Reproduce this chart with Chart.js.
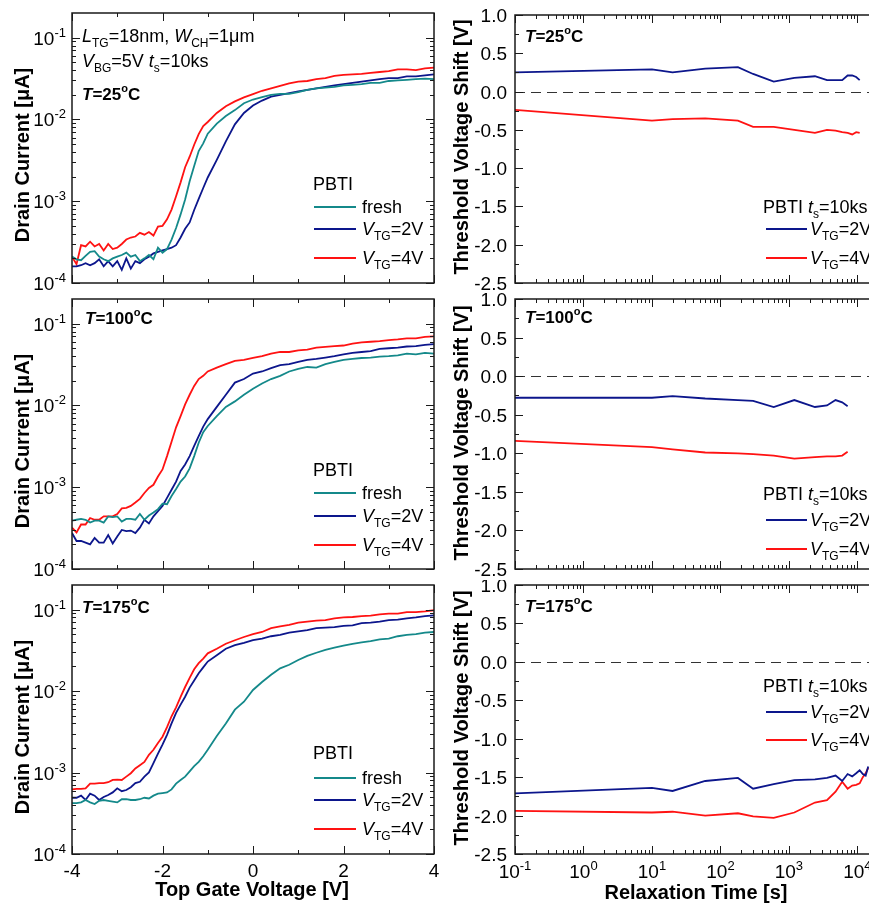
<!DOCTYPE html>
<html>
<head>
<meta charset="utf-8">
<title>PBTI</title>
<script src="https://cdn.jsdelivr.net/npm/chart.js@4.4.1/dist/chart.umd.min.js"></script>
<style>
  html, body { margin: 0; padding: 0; background: #fff; overflow: hidden; }
  #wrap { position: relative; width: 869px; height: 906px; overflow: hidden; }
  #wrap canvas { position: absolute; }
</style>
</head>
<body>
<div id="wrap">
  <canvas id="iv25" width="440" height="290" style="left:0;top:0"></canvas>
  <canvas id="iv100" width="440" height="290" style="left:0;top:290px"></canvas>
  <canvas id="iv175" width="440" height="326" style="left:0;top:580px"></canvas>
  <canvas id="dv25" width="460" height="290" style="left:430px;top:0"></canvas>
  <canvas id="dv100" width="460" height="290" style="left:430px;top:290px"></canvas>
  <canvas id="dv175" width="460" height="326" style="left:430px;top:580px"></canvas>
</div>
<script>
const FAMILY = '"Liberation Sans", Arial, Helvetica, sans-serif'
const TEAL = '#14898a'
const NAVY = '#0c168c'
const RED = '#ff1212'

// top gate voltage [V]
const vg = [-4.0, -3.9, -3.8, -3.7, -3.6, -3.5, -3.4, -3.3, -3.2, -3.1,
  -3.0, -2.9, -2.8, -2.7, -2.6, -2.5, -2.4, -2.3, -2.2, -2.1,
  -2.0, -1.9, -1.8, -1.7, -1.6, -1.5, -1.4, -1.3, -1.2, -1.1,
  -1.0, -0.8, -0.6, -0.4, -0.2, 0, 0.2, 0.4, 0.6, 0.8,
  1.0, 1.2, 1.4, 1.6, 1.8, 2.0, 2.2, 2.4, 2.6, 2.8,
  3.0, 3.2, 3.4, 3.6, 3.8, 4.0]

// drain current [uA], T = 25 C
const fresh25 = [2.1e-4, 1.95e-4, 1.9e-4, 2.15e-4, 2.4e-4, 2.45e-4, 2.1e-4, 1.95e-4, 1.85e-4, 2.0e-4,
  2.1e-4, 2.2e-4, 2.35e-4, 2.1e-4, 2.2e-4, 1.85e-4, 2.0e-4, 2.2e-4, 1.95e-4, 2.7e-4,
  2.35e-4, 2.6e-4, 3.4e-4, 4.7e-4, 6.9e-4, 1.05e-3, 1.75e-3, 2.7e-3, 4.1e-3, 5.1e-3,
  6.7e-3, 8.9e-3, 1.1e-2, 1.3e-2, 1.58e-2, 1.75e-2, 1.87e-2, 2.0e-2, 2.05e-2, 2.05e-2,
  2.15e-2, 2.3e-2, 2.4e-2, 2.45e-2, 2.5e-2, 2.6e-2, 2.65e-2, 2.7e-2, 2.8e-2, 2.8e-2,
  2.95e-2, 3.0e-2, 3.05e-2, 3.1e-2, 3.15e-2, 3.1e-2]
const vtg2_25 = [1.6e-4, 1.6e-4, 1.65e-4, 1.75e-4, 1.65e-4, 1.75e-4, 1.95e-4, 1.6e-4, 1.85e-4, 1.6e-4,
  1.85e-4, 1.45e-4, 2.0e-4, 1.5e-4, 1.85e-4, 1.75e-4, 1.95e-4, 2.1e-4, 2.3e-4, 2.4e-4,
  2.5e-4, 2.6e-4, 2.7e-4, 2.9e-4, 3.6e-4, 4.6e-4, 5.5e-4, 7.8e-4, 1.07e-3, 1.45e-3,
  1.95e-3, 3.2e-3, 5.4e-3, 8.7e-3, 1.2e-2, 1.48e-2, 1.7e-2, 1.9e-2, 2.0e-2, 2.1e-2,
  2.2e-2, 2.3e-2, 2.4e-2, 2.5e-2, 2.6e-2, 2.7e-2, 2.8e-2, 2.9e-2, 3.0e-2, 3.1e-2,
  3.2e-2, 3.2e-2, 3.35e-2, 3.35e-2, 3.45e-2, 3.55e-2]
const vtg4_25 = [2.1e-4, 1.7e-4, 2.9e-4, 2.8e-4, 3.2e-4, 2.8e-4, 3.0e-4, 2.5e-4, 3.0e-4, 2.6e-4,
  2.7e-4, 3.0e-4, 3.4e-4, 3.6e-4, 3.7e-4, 4.1e-4, 3.9e-4, 4.2e-4, 3.8e-4, 4.9e-4,
  5.0e-4, 6.0e-4, 7.9e-4, 1.15e-3, 1.7e-3, 2.6e-3, 3.5e-3, 4.9e-3, 6.6e-3, 8.3e-3,
  9.3e-3, 1.2e-2, 1.45e-2, 1.66e-2, 1.86e-2, 2.04e-2, 2.24e-2, 2.4e-2, 2.57e-2, 2.75e-2,
  2.9e-2, 2.95e-2, 3.1e-2, 3.2e-2, 3.4e-2, 3.5e-2, 3.55e-2, 3.6e-2, 3.7e-2, 3.8e-2,
  3.9e-2, 4.1e-2, 4.1e-2, 4.0e-2, 4.2e-2, 4.3e-2]

// drain current [uA], T = 100 C
const fresh100 = [3.9e-4, 4.0e-4, 4.1e-4, 4.0e-4, 3.7e-4, 3.9e-4, 3.9e-4, 3.7e-4, 4.4e-4, 4.3e-4,
  4.4e-4, 3.8e-4, 4.1e-4, 4.1e-4, 4.0e-4, 4.7e-4, 4.0e-4, 4.5e-4, 4.9e-4, 5.4e-4,
  6.3e-4, 6.2e-4, 7.8e-4, 9.5e-4, 1.17e-3, 1.35e-3, 1.7e-3, 2.4e-3, 3.5e-3, 4.7e-3,
  5.6e-3, 7.4e-3, 9.6e-3, 1.12e-2, 1.35e-2, 1.6e-2, 1.85e-2, 2.1e-2, 2.3e-2, 2.6e-2,
  2.8e-2, 2.95e-2, 2.9e-2, 3.2e-2, 3.4e-2, 3.6e-2, 3.7e-2, 3.8e-2, 3.85e-2, 3.95e-2,
  4.0e-2, 4.1e-2, 4.3e-2, 4.2e-2, 4.4e-2, 4.3e-2]
const vtg2_100 = [2.75e-4, 2.2e-4, 2.2e-4, 2.1e-4, 2.0e-4, 2.4e-4, 2.1e-4, 2.1e-4, 2.6e-4, 2.05e-4,
  2.5e-4, 3.0e-4, 2.9e-4, 2.95e-4, 2.75e-4, 3.2e-4, 4.0e-4, 3.6e-4, 4.4e-4, 5.1e-4,
  5.9e-4, 7.4e-4, 9.3e-4, 1.17e-3, 1.58e-3, 1.9e-3, 2.4e-3, 3.2e-3, 4.2e-3, 5.5e-3,
  6.8e-3, 9.6e-3, 1.35e-2, 1.9e-2, 2.1e-2, 2.45e-2, 2.6e-2, 2.85e-2, 3.1e-2, 3.2e-2,
  3.4e-2, 3.6e-2, 3.7e-2, 3.85e-2, 4.0e-2, 4.2e-2, 4.4e-2, 4.5e-2, 4.6e-2, 4.9e-2,
  5.0e-2, 5.1e-2, 5.25e-2, 5.3e-2, 5.5e-2, 5.6e-2]
const vtg4_100 = [3.2e-4, 2.8e-4, 3.5e-4, 3.5e-4, 4.2e-4, 4.0e-4, 4.0e-4, 4.4e-4, 4.4e-4, 4.4e-4,
  4.7e-4, 5.5e-4, 5.6e-4, 5.9e-4, 6.5e-4, 7.2e-4, 8.5e-4, 9.8e-4, 1.07e-3, 1.35e-3,
  1.65e-3, 2.4e-3, 3.6e-3, 5.4e-3, 7.4e-3, 1.03e-2, 1.35e-2, 1.73e-2, 2.1e-2, 2.3e-2,
  2.6e-2, 2.9e-2, 3.2e-2, 3.5e-2, 3.6e-2, 3.8e-2, 4.0e-2, 4.3e-2, 4.5e-2, 4.5e-2,
  4.7e-2, 4.8e-2, 5.1e-2, 5.2e-2, 5.3e-2, 5.4e-2, 5.7e-2, 5.9e-2, 6.0e-2, 6.1e-2,
  6.3e-2, 6.4e-2, 6.6e-2, 6.6e-2, 6.9e-2, 7.0e-2]

// drain current [uA], T = 175 C
const fresh175 = [4.2e-4, 4.2e-4, 4.3e-4, 4.6e-4, 4.3e-4, 4.1e-4, 4.5e-4, 4.6e-4, 4.5e-4, 4.4e-4,
  4.3e-4, 4.7e-4, 4.7e-4, 4.6e-4, 4.6e-4, 4.7e-4, 4.9e-4, 4.8e-4, 5.2e-4, 5.5e-4,
  5.6e-4, 5.7e-4, 6.2e-4, 7.3e-4, 8.1e-4, 8.9e-4, 1.03e-3, 1.2e-3, 1.35e-3, 1.58e-3,
  1.9e-3, 2.8e-3, 4.0e-3, 5.9e-3, 7.4e-3, 1.03e-2, 1.29e-2, 1.58e-2, 1.9e-2, 2.1e-2,
  2.4e-2, 2.7e-2, 2.95e-2, 3.2e-2, 3.4e-2, 3.6e-2, 3.8e-2, 3.95e-2, 4.1e-2, 4.3e-2,
  4.4e-2, 4.7e-2, 4.9e-2, 5.0e-2, 5.2e-2, 5.3e-2]
const vtg2_175 = [4.9e-4, 4.9e-4, 5.2e-4, 4.6e-4, 5.5e-4, 5.2e-4, 4.6e-4, 5.0e-4, 5.3e-4, 5.7e-4,
  6.4e-4, 5.9e-4, 6.1e-4, 6.6e-4, 7.4e-4, 7.7e-4, 8.9e-4, 1.0e-3, 1.3e-3, 1.7e-3,
  2.2e-3, 2.9e-3, 4.0e-3, 5.4e-3, 6.8e-3, 8.5e-3, 1.1e-2, 1.35e-2, 1.65e-2, 1.95e-2,
  2.3e-2, 2.75e-2, 3.3e-2, 3.65e-2, 3.9e-2, 4.2e-2, 4.4e-2, 4.7e-2, 4.9e-2, 5.2e-2,
  5.4e-2, 5.6e-2, 5.9e-2, 6.0e-2, 6.1e-2, 6.3e-2, 6.4e-2, 6.8e-2, 6.9e-2, 7.1e-2,
  7.4e-2, 7.5e-2, 7.8e-2, 8.0e-2, 8.3e-2, 8.5e-2]
const vtg4_175 = [6.2e-4, 6.3e-4, 6.3e-4, 6.4e-4, 7.3e-4, 7.3e-4, 7.4e-4, 7.4e-4, 7.6e-4, 8.1e-4,
  8.2e-4, 8.1e-4, 8.9e-4, 9.8e-4, 1.12e-3, 1.23e-3, 1.35e-3, 1.65e-3, 1.9e-3, 2.3e-3,
  2.75e-3, 3.6e-3, 4.9e-3, 6.3e-3, 8.5e-3, 1.12e-2, 1.45e-2, 1.85e-2, 2.2e-2, 2.5e-2,
  2.9e-2, 3.3e-2, 3.8e-2, 4.2e-2, 4.6e-2, 5.0e-2, 5.3e-2, 5.9e-2, 6.2e-2, 6.5e-2,
  6.9e-2, 7.1e-2, 7.3e-2, 7.4e-2, 7.8e-2, 8.0e-2, 8.1e-2, 8.3e-2, 8.4e-2, 8.7e-2,
  8.9e-2, 8.9e-2, 9.3e-2, 9.3e-2, 9.5e-2, 9.8e-2]

// relaxation time [s] and threshold voltage shift [V]
const tRelax = [0.1, 10, 20, 60, 180, 300, 600, 1200, 2400, 3600,
  4800, 6000, 7200, 8400, 9600, 10800, 12000, 13200, 14400]
const dv25Vtg2 = [0.25, 0.29, 0.25, 0.30, 0.32, 0.23, 0.13, 0.18, 0.20, 0.15,
  0.15, 0.15, 0.21, 0.21, 0.19, 0.15]
const dv25Vtg4 = [-0.24, -0.38, -0.36, -0.35, -0.38, -0.46, -0.46, -0.50, -0.54, -0.50,
  -0.51, -0.53, -0.54, -0.56, -0.53, -0.54]
const dv100Vtg2 = [-0.28, -0.28, -0.26, -0.29, -0.31, -0.32, -0.40, -0.31, -0.40, -0.38,
  -0.31, -0.34, -0.39]
const dv100Vtg4 = [-0.84, -0.92, -0.95, -0.99, -1.00, -1.01, -1.03, -1.07, -1.05, -1.04,
  -1.04, -1.03, -0.98]
const dv175Vtg2 = [-1.71, -1.64, -1.68, -1.55, -1.51, -1.65, -1.59, -1.54, -1.53, -1.51,
  -1.48, -1.55, -1.46, -1.49, -1.45, -1.41, -1.46, -1.48, -1.36]
const dv175Vtg4 = [-1.94, -1.96, -1.95, -2.00, -1.97, -2.01, -2.03, -1.96, -1.83, -1.80,
  -1.69, -1.56, -1.65, -1.61, -1.60, -1.58, -1.50, -1.45, -1.38]
const zeroLevel = 0

// axis ticks
const ivTicks = [1e-4, 1e-3, 1e-2, 1e-1]
const ivExp = ['-4', '-3', '-2', '-1']
const vgTicks = [-4, -2, 0, 2, 4]
const vgMinor = [-3, -1, 1, 3]
const dvTicks = [1.0, 0.5, 0.0, -0.5, -1.0, -1.5, -2.0, -2.5]
const dvMinor = [0.75, 0.25, -0.25, -0.75, -1.25, -1.75, -2.25]
const tTicks = [0.1, 1, 10, 100, 1000, 10000]
const tExp = ['-1', '0', '1', '2', '3', '4']

const font = (px, style) => (style ? style + ' ' : '') + px + 'px ' + FAMILY

// texto con subindices / superindices: [texto, fuente, desplazamiento y]
const drawRuns = (ctx, parts, x, y, align) => {
  let w = 0
  parts.forEach(p => { ctx.font = p[1]; w += ctx.measureText(p[0]).width })
  let cx = align === 'right' ? x - w : align === 'center' ? x - w / 2 : x
  ctx.textAlign = 'left'
  ctx.textBaseline = 'alphabetic'
  parts.forEach(p => {
    ctx.font = p[1]
    ctx.fillText(p[0], cx, y + (p[2] || 0))
    cx += ctx.measureText(p[0]).width
  })
}

const logMinors = (min, max) => {
  const out = []
  for (let e = Math.floor(Math.log10(min)); e <= Math.ceil(Math.log10(max)); e++) {
    for (let m = 2; m <= 9; m++) {
      const v = m * Math.pow(10, e)
      if (v > min && v < max) out.push(v)
    }
  }
  return out
}

const tenTo = e => [['10', font(19)], [e, font(13), -8]]
const vtgText = n => [['V', font(18, 'italic')], ['TG', font(12), 5], ['=' + n + 'V', font(18)]]
const tempText = t => [['T', font(17, 'italic bold')], ['=' + t, font(17, 'bold')], ['o', font(11, 'bold'), -8], ['C', font(17, 'bold')]]

const makePanel = (id, p) => {
  const datasets = p.curves.map(c => ({
    data: c.y.map((v, i) => ({ x: c.x[i], y: v })),
    borderColor: c.color,
    borderWidth: 1.8,
    pointRadius: 0,
    tension: 0,
    fill: false
  }))
  const deco = {
    id: 'deco',
    beforeDatasetsDraw(chart) {
      if (p.kind !== 'dv') return
      const { ctx, chartArea: a, scales } = chart
      const y0 = Math.round(scales.y.getPixelForValue(zeroLevel)) + 0.5
      ctx.save()
      ctx.strokeStyle = '#333'
      ctx.lineWidth = 1.2
      ctx.setLineDash([10, 6])
      ctx.beginPath()
      ctx.moveTo(a.left, y0)
      ctx.lineTo(a.right, y0)
      ctx.stroke()
      ctx.restore()
    },
    afterDatasetsDraw(chart) {
      const { ctx, chartArea: a, scales: { x, y } } = chart
      ctx.save()
      ctx.strokeStyle = '#1a1a1a'
      ctx.lineWidth = 1
      ctx.beginPath()
      const xt = (vals, len) => vals.forEach(v => {
        const px = Math.round(x.getPixelForValue(v)) + 0.5
        ctx.moveTo(px, a.bottom); ctx.lineTo(px, a.bottom - len)
        ctx.moveTo(px, a.top); ctx.lineTo(px, a.top + len)
      })
      const yt = (vals, len) => vals.forEach(v => {
        const py = Math.round(y.getPixelForValue(v)) + 0.5
        ctx.moveTo(a.left, py); ctx.lineTo(a.left + len, py)
        ctx.moveTo(a.right, py); ctx.lineTo(a.right - len, py)
      })
      if (p.kind === 'iv') {
        xt(vgTicks, 8); xt(vgMinor, 4)
        yt(ivTicks, 8); yt(logMinors(1e-4, 0.2), 4)
      } else {
        xt(tTicks, 8); xt(logMinors(0.1, 2e4), 4)
        yt(dvTicks, 8); yt(dvMinor, 4)
      }
      ctx.stroke()
      ctx.lineWidth = 1.5
      ctx.strokeRect(a.left, a.top, a.right - a.left, a.bottom - a.top)

      // tick labels
      ctx.fillStyle = '#000'
      if (p.kind === 'iv') {
        ivTicks.forEach((v, i) => drawRuns(ctx, tenTo(ivExp[i]), 66, y.getPixelForValue(v) + 7, 'right'))
        if (p.bottom) vgTicks.forEach(v => drawRuns(ctx, [[String(v), font(19)]], x.getPixelForValue(v), p.bottom, 'center'))
      } else {
        dvTicks.forEach(v => drawRuns(ctx, [[v.toFixed(1), font(19)]], 77, y.getPixelForValue(v) + 7, 'right'))
        if (p.bottom) tTicks.forEach((v, i) => drawRuns(ctx, tenTo(tExp[i]), x.getPixelForValue(v), p.bottom, 'center'))
      }

      // axis titles
      ctx.save()
      ctx.translate(p.yTitle[0], p.yTitle[1])
      ctx.rotate(-Math.PI / 2)
      ctx.font = font(20, 'bold')
      ctx.textAlign = 'center'
      ctx.textBaseline = 'middle'
      ctx.fillText(p.kind === 'iv' ? 'Drain Current [\u03bcA]' : 'Threshold Voltage Shift [V]', 0, 0)
      ctx.restore()
      if (p.xTitle) {
        ctx.font = font(20, 'bold')
        ctx.textAlign = 'center'
        ctx.textBaseline = 'middle'
        ctx.fillText(p.kind === 'iv' ? 'Top Gate Voltage [V]' : 'Relaxation Time [s]', p.xTitle[0], p.xTitle[1])
      }

      // notes and legend
      p.notes.forEach(n => drawRuns(ctx, n[0], n[1], n[2], 'left'))
      const lg = p.legend
      drawRuns(ctx, lg.head[0], lg.head[1], lg.head[2], 'left')
      lg.items.forEach(it => {
        ctx.strokeStyle = it[0]
        ctx.lineWidth = 2
        ctx.beginPath()
        ctx.moveTo(lg.x0, it[2]); ctx.lineTo(lg.x1, it[2])
        ctx.stroke()
        drawRuns(ctx, it[1], lg.tx, it[2] + 6, 'left')
      })
      ctx.restore()
    }
  }
  new Chart(document.getElementById(id), {
    type: 'line',
    data: { datasets },
    options: {
      responsive: false,
      animation: false,
      events: [],
      devicePixelRatio: 1,
      layout: { padding: p.pad },
      scales: {
        x: p.kind === 'iv'
          ? { type: 'linear', display: false, min: -4, max: 4 }
          : { type: 'logarithmic', display: false, min: 0.1, max: 2e4 },
        y: p.kind === 'iv'
          ? { type: 'logarithmic', display: false, min: 1e-4, max: 0.2 }
          : { type: 'linear', display: false, min: -2.5, max: 1.0 }
      },
      plugins: { legend: { display: false }, tooltip: { enabled: false } }
    },
    plugins: [deco]
  })
}

const ivLegend = (head, lines) => ({
  head: [[['PBTI', font(18)]], 313, head],
  x0: 314, x1: 356, tx: 362,
  items: [[TEAL, [['fresh', font(18)]], lines[0]], [NAVY, vtgText(2), lines[1]], [RED, vtgText(4), lines[2]]]
})
const dvLegend = (head, lines) => ({
  head: [[['PBTI ', font(18)], ['t', font(18, 'italic')], ['s', font(12), 5], ['=10ks', font(18)]], 333, head],
  x0: 336, x1: 377, tx: 380,
  items: [[NAVY, vtgText(2), lines[0]], [RED, vtgText(4), lines[1]]]
})
const ivCurves = (a, b, c) => [
  { x: vg, y: a, color: TEAL }, { x: vg, y: b, color: NAVY }, { x: vg, y: c, color: RED }
]
const dvCurves = (a, b) => [{ x: tRelax, y: a, color: NAVY }, { x: tRelax, y: b, color: RED }]

makePanel('iv25', {
  kind: 'iv', pad: { left: 72, right: 6, top: 13, bottom: 7 },
  curves: ivCurves(fresh25, vtg2_25, vtg4_25),
  yTitle: [23, 155],
  notes: [
    [[['L', font(18, 'italic')], ['TG', font(12), 5], ['=18nm, ', font(18)], ['W', font(18, 'italic')], ['CH', font(12), 5], ['=1\u03bcm', font(18)]], 82, 42],
    [[['V', font(18, 'italic')], ['BG', font(12), 5], ['=5V ', font(18)], ['t', font(18, 'italic')], ['s', font(12), 5], ['=10ks', font(18)]], 82, 67],
    [tempText('25'), 82, 100]
  ],
  legend: ivLegend(190, [207, 229, 258])
})
makePanel('iv100', {
  kind: 'iv', pad: { left: 72, right: 6, top: 9, bottom: 11 },
  curves: ivCurves(fresh100, vtg2_100, vtg4_100),
  yTitle: [23, 151],
  notes: [[tempText('100'), 85, 34]],
  legend: ivLegend(186, [203, 226, 255])
})
makePanel('iv175', {
  kind: 'iv', pad: { left: 72, right: 6, top: 5, bottom: 52 },
  curves: ivCurves(fresh175, vtg2_175, vtg4_175),
  yTitle: [23, 147],
  bottom: 297,
  xTitle: [252, 310],
  notes: [[tempText('175'), 82, 33]],
  legend: ivLegend(179, [198, 220, 249])
})
makePanel('dv25', {
  kind: 'dv', pad: { left: 85, right: 12, top: 15, bottom: 7 },
  curves: dvCurves(dv25Vtg2, dv25Vtg4),
  yTitle: [32, 147],
  notes: [[tempText('25'), 95, 42]],
  legend: dvLegend(213, [229, 258])
})
makePanel('dv100', {
  kind: 'dv', pad: { left: 85, right: 12, top: 9, bottom: 11 },
  curves: dvCurves(dv100Vtg2, dv100Vtg4),
  yTitle: [32, 143],
  notes: [[tempText('100'), 95, 33]],
  legend: dvLegend(210, [230, 259])
})
makePanel('dv175', {
  kind: 'dv', pad: { left: 85, right: 12, top: 5, bottom: 52 },
  curves: dvCurves(dv175Vtg2, dv175Vtg4),
  yTitle: [32, 138],
  bottom: 298,
  xTitle: [266, 313],
  notes: [[tempText('175'), 95, 32]],
  legend: dvLegend(112, [132, 160])
})
</script>
</body>
</html>
